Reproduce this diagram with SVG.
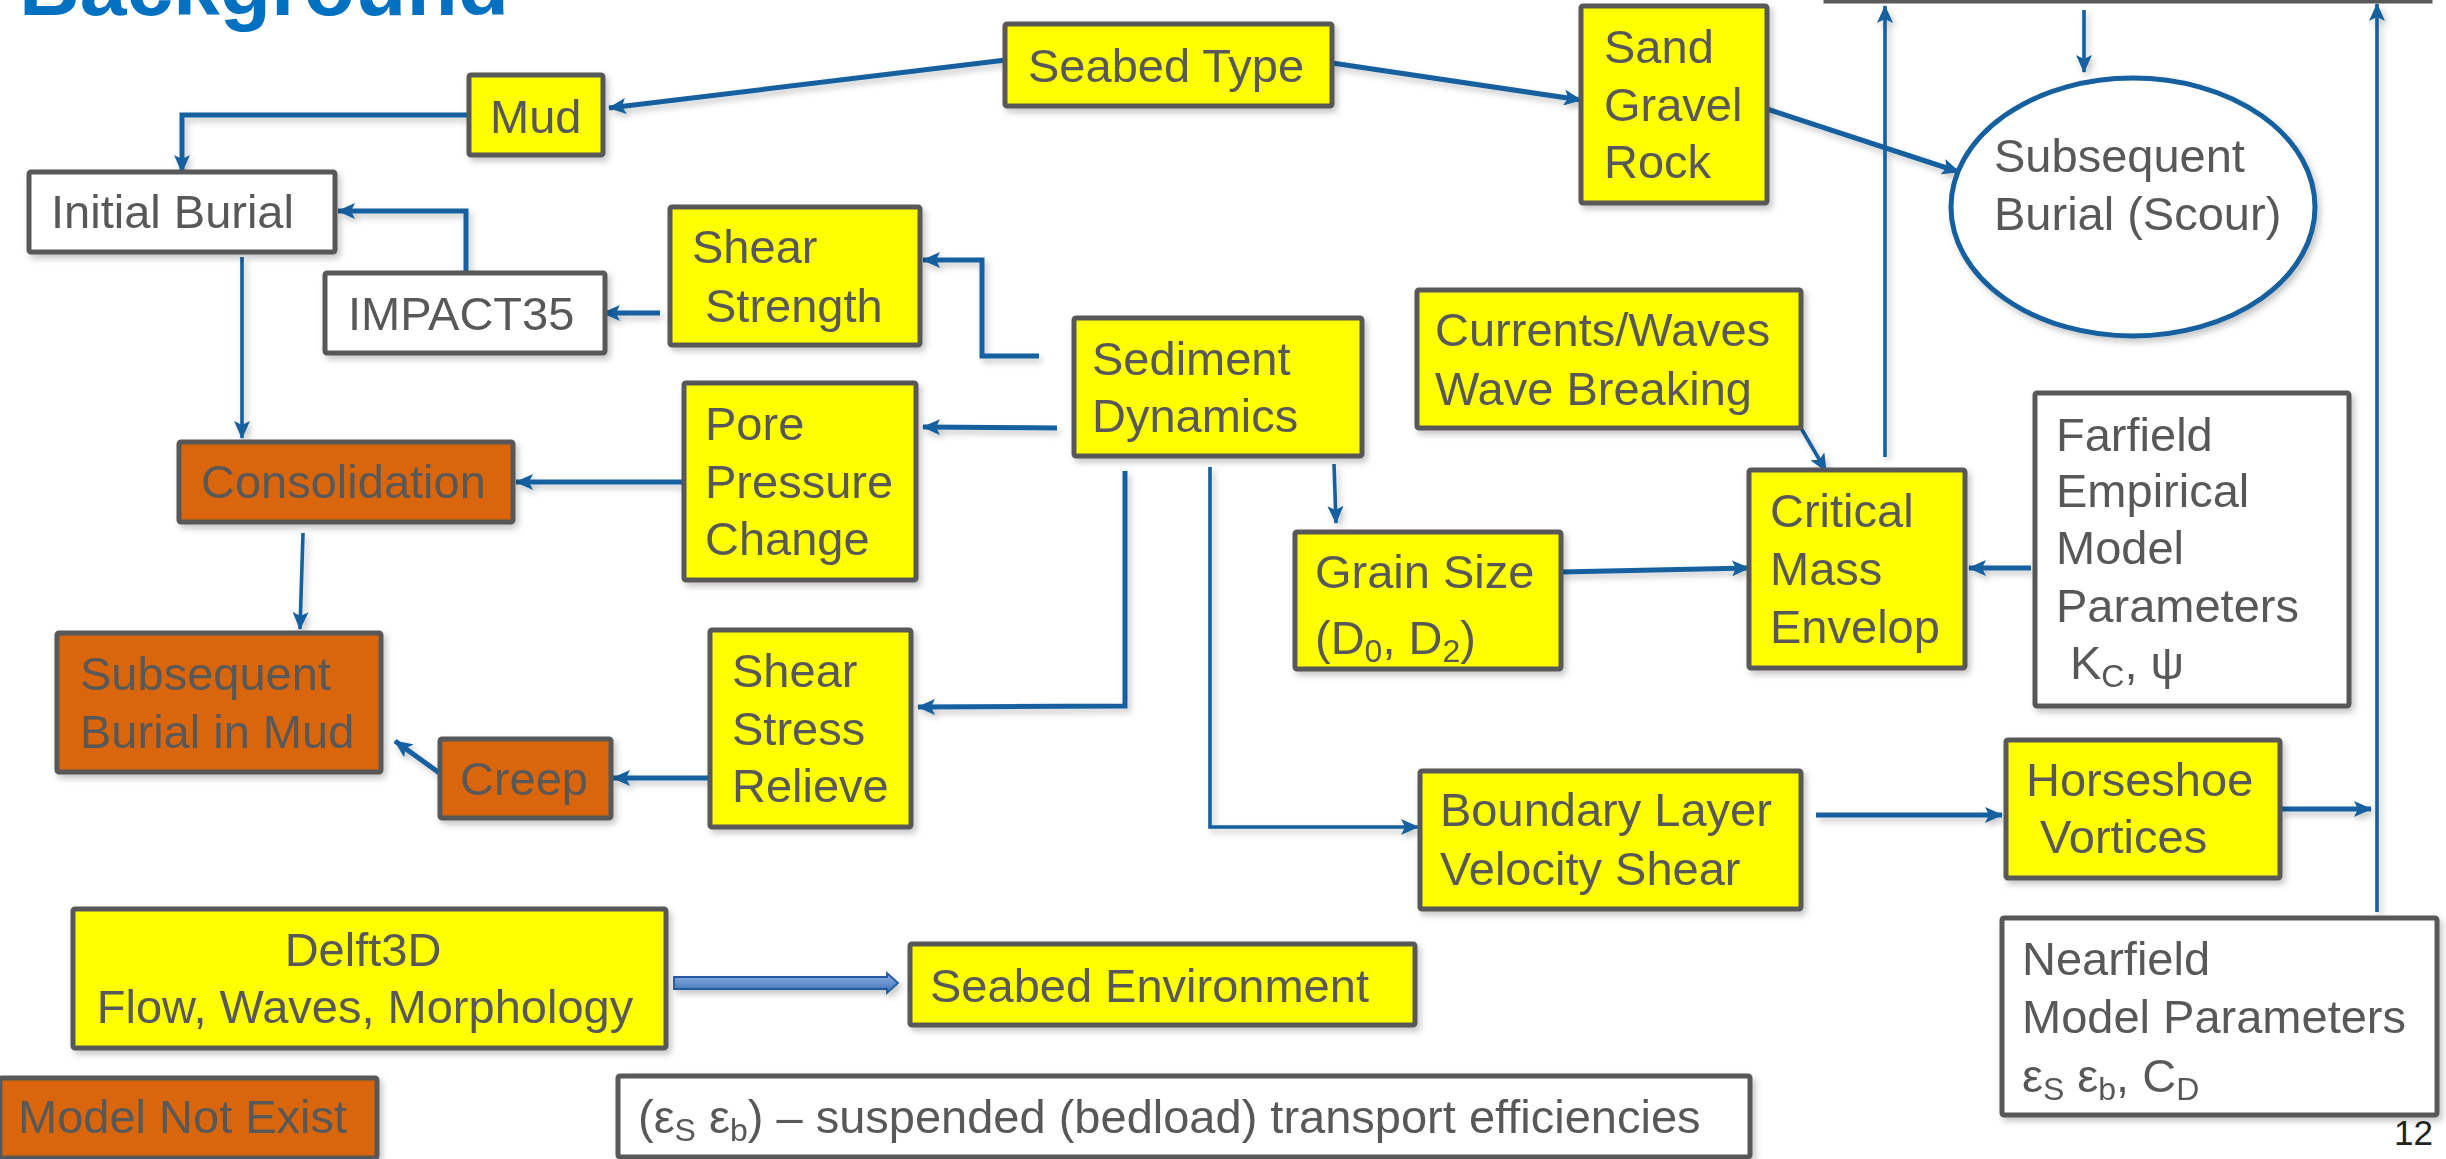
<svg xmlns="http://www.w3.org/2000/svg" width="2446" height="1159" viewBox="0 0 2446 1159">
<defs>
<style>
.box{stroke:#595959;stroke-width:5}
.y{fill:#FFFF00}
.o{fill:#D9660A}
.w{fill:#FFFFFF}
.t{font-family:"Liberation Sans",Arial,sans-serif;font-size:47px;fill:#595959}
.sub{font-size:32px}
.c{fill:none;stroke:#1560A0;stroke-width:5}
.thin{stroke-width:3.6}
.sh{filter:url(#shadow)}
</style>
<filter id="shadow" x="-10%" y="-10%" width="130%" height="130%">
<feDropShadow dx="3" dy="4" stdDeviation="3" flood-color="#000" flood-opacity="0.22"/>
</filter>
<marker id="ah" markerUnits="userSpaceOnUse" markerWidth="20" markerHeight="16" refX="17" refY="8" orient="auto">
<path d="M0,0 L18,8 L0,16 L4,8 z" fill="#1560A0"/>
</marker>
<linearGradient id="bg" x1="0" y1="0" x2="0" y2="1">
<stop offset="0" stop-color="#8FB4E3"/>
<stop offset="1" stop-color="#3F70B8"/>
</linearGradient>
</defs>
<rect width="2446" height="1159" fill="#FFFFFF"/>
<text x="19" y="15" font-family="Liberation Sans,Arial,sans-serif" font-size="84" font-weight="bold" fill="#0070C0">Background</text>

<g id="connectors" class="sh">
<path class="c" d="M1006,60 L609,108" marker-end="url(#ah)"/>
<path class="c" d="M1332,63 L1581,100" marker-end="url(#ah)"/>
<path class="c" d="M1761,107 L1959,172" marker-end="url(#ah)"/>
<path class="c" d="M469,115 L182,115 L182,172" marker-end="url(#ah)"/>
<path class="c" d="M466,275 L466,211 L338,211" marker-end="url(#ah)"/>
<path class="c" d="M660,313 L603,313" marker-end="url(#ah)"/>
<path class="c" d="M1039,356 L982,356 L982,260 L923,260" marker-end="url(#ah)"/>
<path class="c" d="M1057,428 L923,427" marker-end="url(#ah)"/>
<path class="c" d="M682,482 L516,482" marker-end="url(#ah)"/>
<path class="c thin" d="M242,257 L242,438" marker-end="url(#ah)"/>
<path class="c thin" d="M303,533 L300,629" marker-end="url(#ah)"/>
<path class="c" d="M1125,471 L1125,706 L918,707" marker-end="url(#ah)"/>
<path class="c" d="M717,778 L613,778" marker-end="url(#ah)"/>
<path class="c" d="M445,777 L395,741" marker-end="url(#ah)"/>
<path class="c thin" d="M1334,464 L1336,523" marker-end="url(#ah)"/>
<path class="c" d="M1561,572 L1749,568" marker-end="url(#ah)"/>
<path class="c thin" d="M1801,428 L1826,471" marker-end="url(#ah)"/>
<path class="c" d="M2031,568 L1969,568" marker-end="url(#ah)"/>
<path class="c thin" d="M1210,467 L1210,827 L1418,827" marker-end="url(#ah)"/>
<path class="c" d="M1816,815 L2002,815" marker-end="url(#ah)"/>
<path class="c" d="M2280,809 L2371,809" marker-end="url(#ah)"/>
<path class="c thin" d="M1885,457 L1885,6" marker-end="url(#ah)"/>
<path class="c thin" d="M2084,10 L2084,72" marker-end="url(#ah)"/>
<path class="c thin" d="M2377,912 L2377,4" marker-end="url(#ah)"/>
<path d="M674,977 L887,977 L887,973 L898,983 L887,993 L887,989 L674,989 Z" fill="url(#bg)" stroke="#245A9E" stroke-width="1.8"/>
</g>

<g id="top-box"><rect class="box w" x="1826" y="-60" width="604" height="61"/></g>

<g id="mud" class="sh"><rect class="box y" x="469" y="75" width="134" height="80" rx="2"/><text class="t" x="490" y="133">Mud</text></g>
<g id="seabed-type" class="sh"><rect class="box y" x="1005" y="24" width="327" height="82" rx="2"/><text class="t" x="1028" y="82">Seabed Type</text></g>
<g id="sand-gravel-rock" class="sh"><rect class="box y" x="1581" y="6" width="186" height="197" rx="2"/><text class="t" x="1604" y="63">Sand</text><text class="t" x="1604" y="121">Gravel</text><text class="t" x="1604" y="178">Rock</text></g>
<g id="subsequent-burial-scour" class="sh"><ellipse cx="2133" cy="207" rx="182" ry="129" fill="#FFFFFF" stroke="#1560A0" stroke-width="5"/><text class="t" x="1994" y="172">Subsequent</text><text class="t" x="1994" y="230">Burial (Scour)</text></g>
<g id="initial-burial" class="sh"><rect class="box w" x="29" y="172" width="306" height="80" rx="2"/><text class="t" x="51" y="228">Initial Burial</text></g>
<g id="impact35" class="sh"><rect class="box w" x="325" y="273" width="280" height="80" rx="2"/><text class="t" x="348" y="330">IMPACT35</text></g>
<g id="shear-strength" class="sh"><rect class="box y" x="670" y="207" width="250" height="138" rx="2"/><text class="t" x="692" y="263">Shear</text><text class="t" x="705" y="322">Strength</text></g>
<g id="sediment-dynamics" class="sh"><rect class="box y" x="1074" y="318" width="288" height="138" rx="2"/><text class="t" x="1092" y="375">Sediment</text><text class="t" x="1092" y="432">Dynamics</text></g>
<g id="currents-waves" class="sh"><rect class="box y" x="1417" y="290" width="384" height="138" rx="2"/><text class="t" x="1435" y="346">Currents/Waves</text><text class="t" x="1435" y="405">Wave Breaking</text></g>
<g id="pore-pressure" class="sh"><rect class="box y" x="684" y="383" width="232" height="197" rx="2"/><text class="t" x="705" y="440">Pore</text><text class="t" x="705" y="498">Pressure</text><text class="t" x="705" y="555">Change</text></g>
<g id="consolidation" class="sh"><rect class="box o" x="179" y="442" width="334" height="80" rx="2"/><text class="t" x="201" y="498">Consolidation</text></g>
<g id="grain-size" class="sh"><rect class="box y" x="1295" y="532" width="266" height="137" rx="2"/><text class="t" x="1315" y="588">Grain Size</text><text class="t" x="1315" y="654">(D<tspan class="sub" dy="8">0</tspan><tspan dy="-8">, D</tspan><tspan class="sub" dy="8">2</tspan><tspan dy="-8">)</tspan></text></g>
<g id="critical-mass" class="sh"><rect class="box y" x="1749" y="470" width="216" height="198" rx="2"/><text class="t" x="1770" y="527">Critical</text><text class="t" x="1770" y="585">Mass</text><text class="t" x="1770" y="643">Envelop</text></g>
<g id="farfield" class="sh"><rect class="box w" x="2035" y="393" width="314" height="313" rx="2"/><text class="t" x="2056" y="451">Farfield</text><text class="t" x="2056" y="507">Empirical</text><text class="t" x="2056" y="564">Model</text><text class="t" x="2056" y="622">Parameters</text><text class="t" x="2070" y="679">K<tspan class="sub" dy="8">C</tspan><tspan dy="-8">, ψ</tspan></text></g>
<g id="subsequent-burial-mud" class="sh"><rect class="box o" x="57" y="633" width="324" height="139" rx="2"/><text class="t" x="80" y="690">Subsequent</text><text class="t" x="80" y="748">Burial in Mud</text></g>
<g id="shear-stress-relieve" class="sh"><rect class="box y" x="710" y="630" width="201" height="197" rx="2"/><text class="t" x="732" y="687">Shear</text><text class="t" x="732" y="745">Stress</text><text class="t" x="732" y="802">Relieve</text></g>
<g id="creep" class="sh"><rect class="box o" x="440" y="739" width="171" height="79" rx="2"/><text class="t" x="460" y="795">Creep</text></g>
<g id="boundary-layer" class="sh"><rect class="box y" x="1420" y="771" width="381" height="138" rx="2"/><text class="t" x="1440" y="826">Boundary Layer</text><text class="t" x="1440" y="885">Velocity Shear</text></g>
<g id="horseshoe" class="sh"><rect class="box y" x="2006" y="740" width="274" height="138" rx="2"/><text class="t" x="2026" y="796">Horseshoe</text><text class="t" x="2040" y="853">Vortices</text></g>
<g id="delft3d" class="sh"><rect class="box y" x="73" y="909" width="593" height="139" rx="2"/><text class="t" x="363" y="966" text-anchor="middle">Delft3D</text><text class="t" x="365" y="1023" text-anchor="middle">Flow, Waves, Morphology</text></g>
<g id="seabed-environment" class="sh"><rect class="box y" x="910" y="944" width="505" height="81" rx="2"/><text class="t" x="930" y="1002">Seabed Environment</text></g>
<g id="nearfield" class="sh"><rect class="box w" x="2002" y="918" width="435" height="197" rx="2"/><text class="t" x="2022" y="975">Nearfield</text><text class="t" x="2022" y="1033">Model Parameters</text><text class="t" x="2022" y="1092">ε<tspan class="sub" dy="8">S</tspan><tspan dy="-8"> ε</tspan><tspan class="sub" dy="8">b</tspan><tspan dy="-8">, C</tspan><tspan class="sub" dy="8">D</tspan></text></g>
<g id="model-not-exist" class="sh"><rect class="box o" x="0" y="1078" width="377" height="80" rx="2"/><text class="t" x="18" y="1133">Model Not Exist</text></g>
<g id="efficiencies" class="sh"><rect class="box w" x="618" y="1076" width="1132" height="81" rx="2"/><text class="t" x="638" y="1133">(ε<tspan class="sub" dy="8">S</tspan><tspan dy="-8"> ε</tspan><tspan class="sub" dy="8">b</tspan><tspan dy="-8">) – suspended (bedload) transport efficiencies</tspan></text></g>
<text x="2394" y="1145" font-family="Liberation Sans,Arial,sans-serif" font-size="35" fill="#222">12</text>
</svg>
